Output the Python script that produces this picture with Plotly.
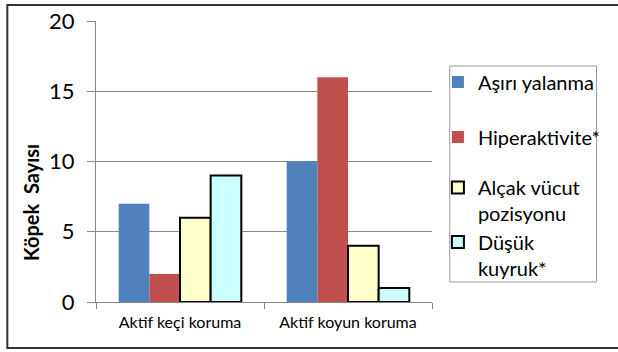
import plotly.graph_objects as go

categories = ["Aktif keçi koruma", "Aktif koyun koruma"]
series_names = ["Aşırı yalanma", "Hiperaktivite*", "Alçak vücut<br>pozisyonu", "Düşük<br>kuyruk*"]
asiri_yalanma = [7, 10]
hiperaktivite = [2, 16]
alcak_vucut = [6, 4]
dusuk_kuyruk = [9, 1]
y_ticks = [0, 5, 10, 15, 20]
y_title = "Köpek\u00a0 Sayısı"

values = [asiri_yalanma, hiperaktivite, alcak_vucut, dusuk_kuyruk]
fills = ["#4F81BD", "#C0504D", "#FFFFCC", "#CCFFFF"]
lines = [dict(width=0), dict(width=0), dict(width=2, color="#000000"), dict(width=2, color="#000000")]

FONT = "Lato"

W, H = 618, 352
L, R, T, B = 96, 181, 21, 50
pw = W - L - R
ph = H - T - B

def px_x(p):
    return (p - L) / pw

def px_y(p):
    return (H - B - p) / ph

legend_ids = ["legend", "legend2", "legend3", "legend4"]
legend_mid_y = [82, 137, 200.5, 255]

fig = go.Figure()
for i, (name, vals) in enumerate(zip(series_names, values)):
    fig.add_trace(go.Bar(
        x=categories, y=vals, name=name,
        marker=dict(color=fills[i], line=lines[i]),
        legend=legend_ids[i],
    ))

legend_layouts = {}
for lid, my in zip(legend_ids, legend_mid_y):
    legend_layouts[lid] = dict(
        x=px_x(443), y=px_y(my), xanchor="left", yanchor="middle",
        borderwidth=0, bgcolor="rgba(0,0,0,0)",
        font=dict(size=20, family=FONT, color="#000000"),
        valign="top", itemwidth=30,
    )

fig.update_layout(
    width=W, height=H,
    margin=dict(l=L, r=R, t=T, b=B, pad=0),
    paper_bgcolor="white", plot_bgcolor="white",
    barmode="group", bargap=0.27, bargroupgap=0,
    font=dict(family=FONT, color="#000000"),
    showlegend=True,
    xaxis=dict(
        showline=True, linecolor="#888888", linewidth=1,
        ticks="outside", tickcolor="#888888", ticklen=6,
        tickson="boundaries",
        tickfont=dict(size=16, family=FONT, color="#000000"),
        ticklabelstandoff=6,
        showgrid=False, automargin=False,
    ),
    yaxis=dict(
        range=[0, 20], tickvals=y_ticks,
        showline=True, linecolor="#888888", linewidth=1,
        ticks="outside", tickcolor="#888888", ticklen=8,
        showgrid=True, gridcolor="#888888", gridwidth=1,
        tickfont=dict(size=22, family=FONT, color="#000000"),
        ticklabelstandoff=8,
        zeroline=False, automargin=False,
    ),
    annotations=[dict(
        text=f"<b>{y_title}</b>", textangle=-90,
        xref="paper", yref="paper", x=px_x(30), y=px_y(202),
        xanchor="center", yanchor="middle", showarrow=False,
        font=dict(size=20, family=FONT, color="#000000"),
    )],
    shapes=[
        dict(
            type="rect", xref="paper", yref="paper",
            x0=px_x(6), x1=px_x(640), y0=px_y(348), y1=px_y(5),
            line=dict(color="#333333", width=2), fillcolor="rgba(0,0,0,0)", layer="below",
        ),
        dict(
            type="rect", xref="paper", yref="paper",
            x0=px_x(455), x1=px_x(604), y0=px_y(282), y1=px_y(66),
            line=dict(color="#999999", width=1), fillcolor="white", layer="below",
        ),
    ],
    **legend_layouts,
)

fig.write_html("out.html")
